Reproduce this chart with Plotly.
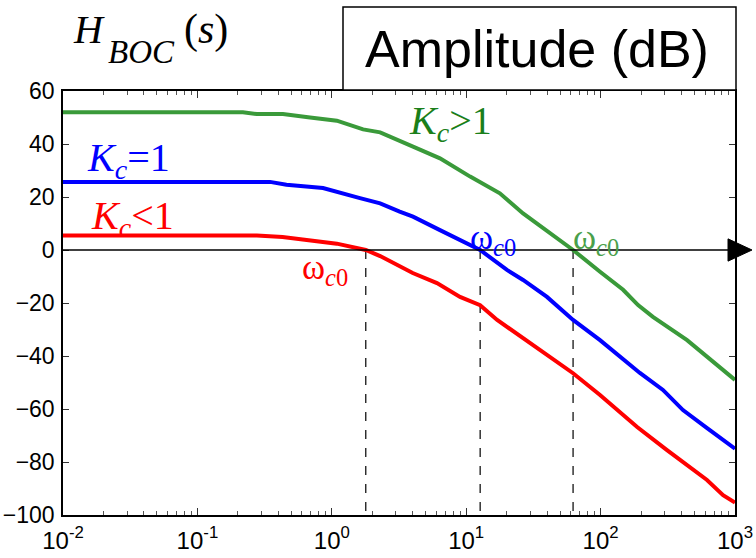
import plotly.graph_objects as go

# Open-loop magnitude |H_BOC(jw)| in dB for three controller gains
freq_lo = [0.01, 0.277, 0.43, 1.09, 1.79, 2.29, 4.0, 6.06, 9.0, 12.7, 17.0, 35.4,
           62.4, 99, 187, 312, 487, 619, 815, 1000]
mag_lo = [5.5, 5.5, 4.9, 2.4, 0, -2.3, -8.7, -12.5, -17.7, -20.8, -26.4, -37.7,
          -46.5, -54.7, -66.8, -75.5, -83, -86.8, -92.5, -95.3]

freq_one = [0.01, 0.347, 0.46, 0.86, 1.62, 2.29, 3.2, 4.02, 6.38, 12.7, 20.1, 26.5,
            39.9, 62.4, 99, 196, 291, 410, 620, 1000]
mag_one = [25.7, 25.7, 24.6, 23.4, 19.6, 17.6, 14.5, 12.6, 7.5, 0, -7.5, -11.3,
           -17.7, -26.4, -34, -46.4, -52.8, -60.4, -67.2, -75]

freq_hi = [0.01, 0.218, 0.277, 0.433, 0.689, 1.09, 1.71, 2.29, 4.02, 6.38, 10.7,
           17.8, 26.5, 62.4, 99, 147, 190, 245, 440, 620, 1000]
mag_hi = [52, 52, 51.3, 51.3, 50, 48.8, 45.5, 44.4, 39, 34.6, 27.7, 21.4, 13.8, 0,
          -8.2, -15, -20.8, -25.2, -34, -40.3, -49]

# crossover frequencies (0 dB) for Kc<1, Kc=1, Kc>1
wc0 = [1.79, 12.7, 62.4]

x_tickvals = [0.01, 0.1, 1, 10, 100, 1000]
x_ticktext = ["10<sup>-2</sup>", "10<sup>-1</sup>", "10<sup>0</sup>",
              "10<sup>1</sup>", "10<sup>2</sup>", "10<sup>3</sup>"]
y_tickvals = [60, 40, 20, 0, -20, -40, -60, -80, -100]

RED, BLUE, GREEN = "#ff0000", "#0000ff", "#3a9a3a"
GREEN_TXT = "#1a7f1a"

fig = go.Figure()

# dashed drop lines from each crossover down to the bottom axis
for w in wc0:
    fig.add_trace(go.Scatter(x=[w, w], y=[0, -100], mode="lines",
                             line=dict(color="black", width=1.2, dash="dash"),
                             hoverinfo="skip", showlegend=False))

for xs, ys, col in [(freq_lo, mag_lo, RED), (freq_one, mag_one, BLUE),
                    (freq_hi, mag_hi, GREEN)]:
    fig.add_trace(go.Scatter(x=xs, y=ys, mode="lines",
                             line=dict(color=col, width=4), showlegend=False))

L, R, T, B = 63, 735, 91, 515
W, H = R - L, B - T


def px(xp):
    return (xp - L) / W


def py(yp):
    return (B - yp) / H


SERIF = "Liberation Serif, Times New Roman, serif"
SANS = "Liberation Sans, Arial, sans-serif"

shapes = [
    # 0 dB axis with arrow head
    dict(type="line", xref="paper", yref="y", x0=0, x1=1, y0=0, y1=0,
         line=dict(color="black", width=1.5)),
    dict(type="path", xref="paper", yref="y",
         path=f"M {px(728)},4.2 L {px(752)},0 L {px(728)},-4.2 Z",
         fillcolor="black", line=dict(color="black", width=1)),
    # framed header box
    dict(type="rect", xref="paper", yref="paper",
         x0=px(343), x1=px(736), y0=py(90), y1=py(7),
         fillcolor="white", line=dict(color="black", width=1.5), layer="above"),
]


def label(text, xp, yp, size, color, family=SERIF, anchor="left"):
    return dict(text=text, x=px(xp), y=py(yp), xref="paper", yref="paper",
                xanchor=anchor, yanchor="middle", showarrow=False,
                font=dict(family=family, size=size, color=color))


annotations = [
    # H_BOC(s)
    label("<i>H</i>", 71, 29, 40, "black"),
    label("<i>BOC</i>", 106, 52, 33, "black"),
    label("(<i>s</i>)", 182, 29, 42, "black"),
    label("Amplitude (dB)", 537, 49, 52, "black", family=SANS, anchor="center"),
    label("<i>K</i><sub><i>c</i></sub>&gt;1", 407, 123, 40, GREEN_TXT),
    label("<i>K</i><sub><i>c</i></sub>=1", 85, 160, 40, BLUE),
    label("<i>K</i><sub><i>c</i></sub>&lt;1", 89, 218, 40, RED),
    label("ω<sub><i>c</i>0</sub>", 300, 269, 35, RED),
    label("ω<sub><i>c</i>0</sub>", 468, 240, 35, BLUE),
    label("ω<sub><i>c</i>0</sub>", 571, 240, 35, "#4aa04a"),
]

fig.update_layout(
    width=756, height=558,
    margin=dict(l=L, r=756 - R, t=T, b=558 - B),
    paper_bgcolor="white", plot_bgcolor="white",
    shapes=shapes, annotations=annotations,
    xaxis=dict(type="log", range=[-2, 3], tickvals=x_tickvals, ticktext=x_ticktext,
               ticks="inside", ticklen=7, tickcolor="#333", showline=True,
               linecolor="black", linewidth=1.5, mirror="allticks", showgrid=False,
               zeroline=False, automargin=False, ticklabelstandoff=3,
               tickfont=dict(family=SANS, size=24, color="black"),
               minor=dict(ticks="inside", ticklen=4, tickcolor="#555", dtick="D1",
                          showgrid=False)),
    yaxis=dict(range=[-100, 60], tickvals=y_tickvals, ticks="inside", ticklen=6,
               tickcolor="#333", showline=True, linecolor="black", linewidth=1.5,
               mirror="allticks", showgrid=False, zeroline=False, automargin=False,
               ticklabelstandoff=2,
               tickfont=dict(family=SANS, size=23, color="black")),
)

fig.write_html("out.html")
